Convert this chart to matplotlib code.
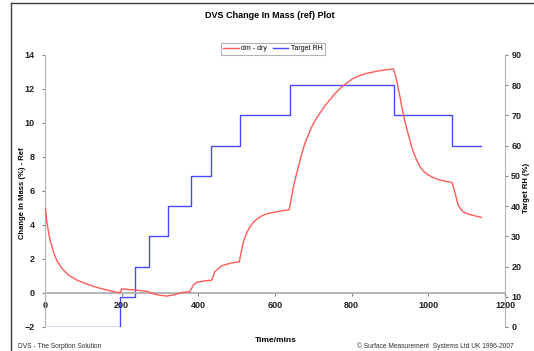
import matplotlib
matplotlib.use("Agg")

import matplotlib.pyplot as plt
from matplotlib.lines import Line2D

plt.rcParams["font.family"] = ["Liberation Sans", "DejaVu Sans"]

# dm - dry (%) against time (mins)
dm_time = [0, 2, 4, 9, 13, 22, 30, 44, 61, 83, 109, 135, 161, 183, 196,
           200, 235, 270, 278, 296, 317, 335, 356, 378, 387, 396, 413, 435,
           443, 461, 483, 507, 509, 513, 517, 522, 528, 535, 543, 552, 564,
           578, 590, 604, 620, 637,
           642, 648, 655, 661, 670, 678, 687, 696, 706, 717, 730, 743, 756,
           770, 787, 804, 820, 839, 856, 874, 890, 909,
           913, 917, 921, 926, 930, 935, 941, 948, 954, 961, 969, 978, 988,
           1000, 1014, 1030, 1046, 1062,
           1066, 1070, 1074, 1078, 1084, 1091, 1100, 1113, 1125, 1138]
dm_value = [5.0, 4.92, 4.29, 3.6, 3.12, 2.43, 1.94, 1.45, 1.06, 0.76, 0.53, 0.33, 0.18, 0.06, 0.02,
            0.24, 0.18, 0.08, -0.02, -0.12, -0.18, -0.12, 0.02, 0.08, 0.47, 0.63, 0.7, 0.76,
            1.25, 1.6, 1.75, 1.84, 2.1, 2.53, 2.95, 3.3, 3.62, 3.9, 4.15, 4.33, 4.52,
            4.65, 4.72, 4.78, 4.84, 4.9,
            5.5, 6.25, 6.9, 7.43, 8.2, 8.8, 9.3, 9.78, 10.2, 10.57, 11.0, 11.35, 11.72,
            12.04, 12.35, 12.63, 12.78, 12.92, 13.0, 13.08, 13.13, 13.18,
            12.9, 12.53, 12.1, 11.55, 11.05, 10.47, 9.9, 9.3, 8.8, 8.3, 7.85, 7.43, 7.15,
            6.94, 6.78, 6.65, 6.57, 6.49,
            6.2, 5.86, 5.5, 5.18, 4.95, 4.78, 4.68, 4.59, 4.52, 4.45]

# Target RH step profile (start time of each step, RH %)
rh_time = [0, 196, 236, 272, 320, 380, 432, 509, 638, 910, 1063, 1138]
rh_value = [0, 10, 20, 30, 40, 50, 60, 70, 80, 70, 60, 60]

red = "#ff5a5a"
blue = "#4848ff"
grey = "#b4b4b4"

fig = plt.figure(figsize=(5.34, 3.51), dpi=100)
ax = fig.add_axes([45 / 534, 1 - 327 / 351, 460 / 534, 272 / 351])
ax2 = ax.twinx()

ax.plot(dm_time, dm_value, color=red, lw=1.0, zorder=3)
ax2.step(rh_time, rh_value, where="post", color=blue, lw=1.0)

ax.set_xlim(0, 1200)
ax.set_ylim(-2, 14)
ax.set_yticks(range(-2, 15, 2))
ax.set_xticks(range(0, 1201, 200))
ax2.set_ylim(0, 90)
ax2.set_yticks(range(0, 91, 10))

# x axis sits on the zero line
ax.spines["bottom"].set_position(("data", 0))
ax.spines["top"].set_visible(False)
ax.spines["right"].set_visible(False)
ax2.spines["top"].set_visible(False)
ax2.spines["left"].set_visible(False)
ax2.spines["bottom"].set_visible(False)
ax.spines["bottom"].set_color(grey)
ax.spines["bottom"].set_linewidth(1.4)
ax.spines["left"].set_color(grey)
ax2.spines["right"].set_color(grey)
ax.set_zorder(ax2.get_zorder() + 1)
ax.patch.set_visible(False)

ax.tick_params(axis="y", labelsize=6.5, length=2.5, color="#808080", pad=5)
ax.tick_params(axis="x", labelsize=6.5, length=2.5, color="#808080", pad=3)
ax2.tick_params(axis="y", labelsize=6.5, length=2.5, color="#808080", pad=2)
for lbl in ax.get_xticklabels() + ax.get_yticklabels() + ax2.get_yticklabels():
    lbl.set_fontweight("bold")
    lbl.set_color("#202020")

fig.text(23 / 534, 1 - 193 / 351, "Change In Mass (%) - Ref", rotation=90,
         ha="center", va="center", fontsize=5.5, fontweight="bold")
fig.text(527 / 534, 1 - 188 / 351, "Target RH (%)", rotation=90,
         ha="center", va="center", fontsize=5.5, fontweight="bold")
fig.text(276 / 534, 1 - 340 / 351, "Time/mins", ha="center", va="center",
         fontsize=6, fontweight="bold")
fig.text(270 / 534, 1 - 16 / 351, "DVS Change In Mass (ref) Plot", ha="center",
         va="center", fontsize=6.5, fontweight="bold")
fig.text(18 / 534, 1 - 346 / 351, "DVS - The Sorption Solution", ha="left",
         va="center", fontsize=4.8, color="#303030")
fig.text(514 / 534, 1 - 346 / 351, "\u00a9 Surface Measurement  Systems Ltd UK 1996-2007",
         ha="right", va="center", fontsize=4.8, color="#303030")

handles = [Line2D([], [], color=red, lw=1.0), Line2D([], [], color=blue, lw=1.0)]
leg = fig.legend(handles, ["dm - dry", "Target RH"], loc="center",
                 bbox_to_anchor=(273 / 534, 1 - 49 / 351), ncol=2, fontsize=5,
                 frameon=True, fancybox=False, handlelength=2.2,
                 handletextpad=0.4, columnspacing=0.8, borderpad=0.4)
leg.get_frame().set_edgecolor("#a0a0a0")
leg.get_frame().set_linewidth(0.8)

# outer chart frame
fig.add_artist(Line2D([11 / 534, 11 / 534], [0, 1 - 3 / 351], color="#404040",
                      lw=1.0, transform=fig.transFigure))
fig.add_artist(Line2D([11 / 534, 1], [1 - 3 / 351, 1 - 3 / 351], color="#404040",
                      lw=1.0, transform=fig.transFigure))

plt.savefig("out.png", dpi=100)
plt.close()
